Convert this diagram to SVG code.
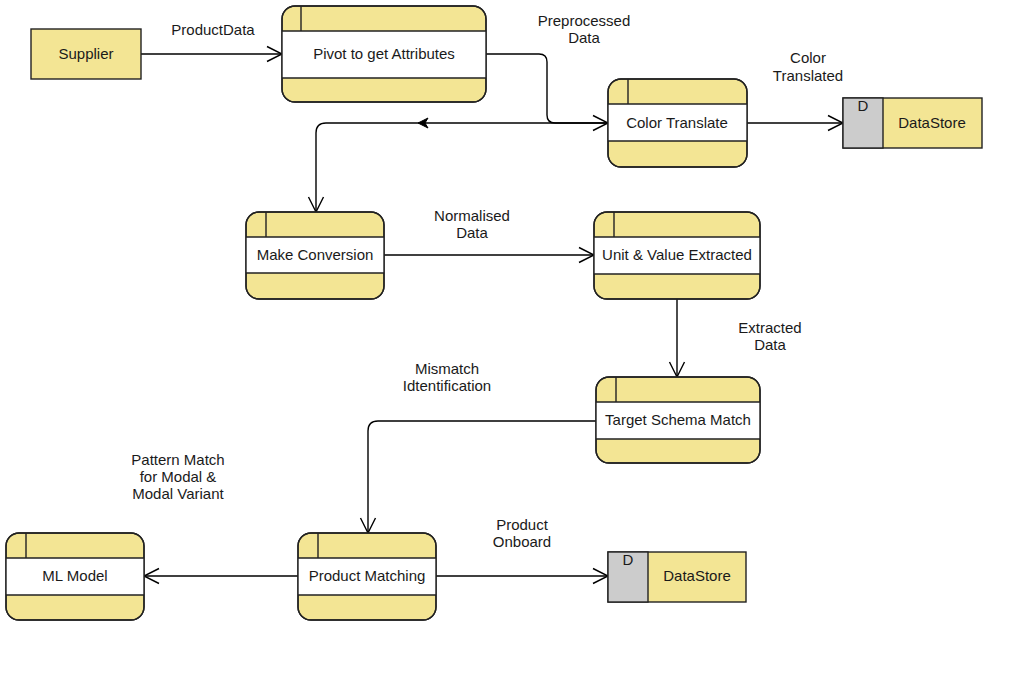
<svg xmlns="http://www.w3.org/2000/svg" width="1021" height="682" viewBox="0 0 1021 682">
<style>
text{font-family:"Liberation Sans",Arial,sans-serif;font-size:15px;fill:#1a1a1a;text-anchor:middle}
.box{fill:#F3E594;stroke:#222;stroke-width:1.4}
.out{fill:none;stroke:#222;stroke-width:1.4}
.band{fill:#fff;stroke:none}
.ln{stroke:#222;stroke-width:1.4;fill:none}
.grey{fill:#CCCCCC;stroke:#222;stroke-width:1.4}
.edge{fill:none;stroke:#000;stroke-width:1.4}
</style>
<defs>
<marker id="open" markerUnits="userSpaceOnUse" markerWidth="16" markerHeight="16" refX="15" refY="7.5" orient="auto" overflow="visible">
<path d="M0,0 L15,7.5 L0,15" fill="none" stroke="#000" stroke-width="1.4"/>
</marker>
<marker id="block" markerUnits="userSpaceOnUse" markerWidth="12" markerHeight="12" refX="10" refY="5" orient="auto" overflow="visible">
<path d="M0,0 L10,5 L0,10 L3,5 Z" fill="#000" stroke="#000" stroke-width="1"/>
</marker>
</defs>
<rect width="1021" height="682" fill="#fff"/>
<g id="connectors">
<path class="edge" d="M141,54 H282" marker-end="url(#open)"/>
<path class="edge" d="M486,54 H539 Q547,54 547,62 V115 Q547,123 555,123 H608" marker-end="url(#open)"/>
<path class="edge" d="M747,123 H843" marker-end="url(#open)"/>
<path class="edge" d="M608,123 H418" marker-end="url(#block)"/>
<path class="edge" d="M418,123 H326 Q316,123 316,133 V212" marker-end="url(#open)"/>
<path class="edge" d="M384,255 H594" marker-end="url(#open)"/>
<path class="edge" d="M677,299 V377" marker-end="url(#open)"/>
<path class="edge" d="M596,421 H378 Q368,421 368,431 V533" marker-end="url(#open)"/>
<path class="edge" d="M298,576 H144" marker-end="url(#open)"/>
<path class="edge" d="M436,576 H608" marker-end="url(#open)"/>
</g>
<g id="edge-labels">
<text x="213" y="35">ProductData</text>
<text x="584" y="26">Preprocessed</text><text x="584" y="43">Data</text>
<text x="808" y="63">Color</text><text x="808" y="81">Translated</text>
<text x="472" y="221">Normalised</text><text x="472" y="238">Data</text>
<text x="770" y="333">Extracted</text><text x="770" y="350">Data</text>
<text x="447" y="374">Mismatch</text><text x="447" y="391">Idtentification</text>
<text x="178" y="465">Pattern Match</text><text x="178" y="482">for Modal &amp;</text><text x="178" y="499">Modal Variant</text>
<text x="522" y="530">Product</text><text x="522" y="547">Onboard</text>
</g>
<g id="supplier">
<rect class="box" x="31" y="29" width="110" height="50"/>
<text x="86" y="59">Supplier</text>
</g>
<g id="pivot">
<rect class="box" x="282" y="6" width="204" height="96" rx="13"/>
<rect class="band" x="282" y="31" width="204" height="47"/>
<path class="ln" d="M282,31 H486 M282,78 H486 M301,6 V31"/>
<rect class="out" x="282" y="6" width="204" height="96" rx="13"/>
<text x="384" y="59">Pivot to get Attributes</text>
</g>
<g id="color-translate">
<rect class="box" x="608" y="79" width="139" height="88" rx="13"/>
<rect class="band" x="608" y="104" width="139" height="37"/>
<path class="ln" d="M608,104 H747 M608,141 H747 M628,79 V104"/>
<rect class="out" x="608" y="79" width="139" height="88" rx="13"/>
<text x="677" y="128">Color Translate</text>
</g>
<g id="datastore-1">
<rect class="box" x="843" y="98" width="139" height="50"/>
<rect class="grey" x="843" y="98" width="40" height="50"/>
<text x="863" y="111">D</text>
<text x="932" y="128">DataStore</text>
</g>
<g id="make-conversion">
<rect class="box" x="246" y="212" width="138" height="87" rx="13"/>
<rect class="band" x="246" y="237" width="138" height="36"/>
<path class="ln" d="M246,237 H384 M246,273 H384 M266,212 V237"/>
<rect class="out" x="246" y="212" width="138" height="87" rx="13"/>
<text x="315" y="260">Make Conversion</text>
</g>
<g id="unit-value">
<rect class="box" x="594" y="212" width="166" height="87" rx="13"/>
<rect class="band" x="594" y="237" width="166" height="37"/>
<path class="ln" d="M594,237 H760 M594,274 H760 M614,212 V237"/>
<rect class="out" x="594" y="212" width="166" height="87" rx="13"/>
<text x="677" y="260">Unit &amp; Value Extracted</text>
</g>
<g id="target-schema">
<rect class="box" x="596" y="377" width="164" height="86" rx="13"/>
<rect class="band" x="596" y="402" width="164" height="37"/>
<path class="ln" d="M596,402 H760 M596,439 H760 M616,377 V402"/>
<rect class="out" x="596" y="377" width="164" height="86" rx="13"/>
<text x="678" y="425">Target Schema Match</text>
</g>
<g id="product-matching">
<rect class="box" x="298" y="533" width="138" height="87" rx="13"/>
<rect class="band" x="298" y="558" width="138" height="37"/>
<path class="ln" d="M298,558 H436 M298,595 H436 M318,533 V558"/>
<rect class="out" x="298" y="533" width="138" height="87" rx="13"/>
<text x="367" y="581">Product Matching</text>
</g>
<g id="ml-model">
<rect class="box" x="6" y="533" width="138" height="87" rx="13"/>
<rect class="band" x="6" y="558" width="138" height="37"/>
<path class="ln" d="M6,558 H144 M6,595 H144 M26,533 V558"/>
<rect class="out" x="6" y="533" width="138" height="87" rx="13"/>
<text x="75" y="581">ML Model</text>
</g>
<g id="datastore-2">
<rect class="box" x="608" y="552" width="138" height="50"/>
<rect class="grey" x="608" y="552" width="40" height="50"/>
<text x="628" y="565">D</text>
<text x="697" y="581">DataStore</text>
</g>
</svg>
